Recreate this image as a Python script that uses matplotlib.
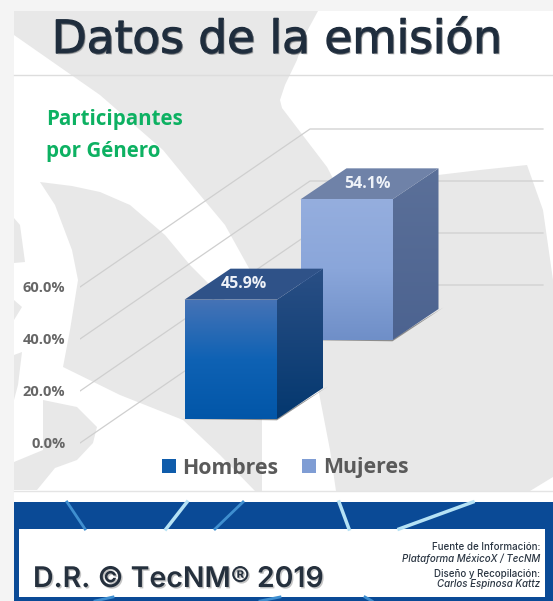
import numpy as np
import matplotlib
matplotlib.use("Agg")
import matplotlib.pyplot as plt
from matplotlib.colors import LinearSegmentedColormap
from matplotlib.patches import Polygon, Patch, Rectangle
import matplotlib.patheffects as pe

# Datos
categorias = ["Hombres", "Mujeres"]
valores = [45.9, 54.1]
ticks = [0, 20, 40, 60]
tick_labels = ["0.0%", "20.0%", "40.0%", "60.0%"]

W, H = 553, 601
PX = 2.6  # pixeles por punto porcentual
Y0 = 443  # pixel del 0%
FONDO_DX, FONDO_DY = 230, 158 / PX

# posicion de cada barra: x frontal, ancho, desplazamiento en profundidad
BAR_X = [184.5, 300.5]
BAR_W = [92.5, 92]
BAR_BASE = [24 / PX, 103 / PX]
DX, DY = 46, 31 / PX
LABEL_DX = [59, 67]

GRIS = "#e8e8e8"
FUENTE = "Open Sans"
colores_frente = [["#4673b6", "#0f62b4", "#0256a8"], ["#95aede", "#8aa6da", "#6f8fc8"]]
colores_lado = [["#2a4f85", "#04386f"], ["#5b7099", "#4c6390"]]
colores_tapa = ["#2f5288", "#6f82a8"]
legend_colors = ["#0f5cab", "#7f9dd4"]

fig = plt.figure(figsize=(W / 100, H / 100), dpi=100, facecolor="#f4f4f4")

# Fondo en pixeles
bg = fig.add_axes([0, 0, 1, 1])
bg.set_xlim(0, W)
bg.set_ylim(H, 0)
bg.axis("off")
bg.add_patch(Rectangle((14, 11), W, 491, fc="white", ec="none"))

# Marca de agua
formas = [
    # banda superior
    [(14, 11), (318, 11), (305, 35), (297, 60), (285, 85), (280, 100), (282, 108), (327, 167), (360, 230), (380, 300),
     (280, 345), (270, 340), (262, 305), (250, 270), (225, 225), (190, 183), (163, 150), (100, 95), (14, 35)],
    # hoja izquierda
    [(40, 182), (72, 186), (100, 192), (130, 205), (165, 235), (190, 265), (225, 300), (262, 345), (262, 491),
     (255, 491), (220, 455), (183, 420), (120, 395), (63, 367), (70, 330), (78, 280), (72, 250), (55, 205)],
    # zona derecha
    [(438, 175), (480, 170), (527, 165), (543, 210), (553, 280), (553, 477), (530, 491), (336, 491), (330, 450), (319, 393),
     (300, 340), (330, 200)],
    # mancha inferior izquierda
    [(43, 400), (77, 407), (97, 427), (93, 443), (77, 460), (55, 468), (37, 490), (14, 490), (14, 462), (43, 450)],
    # recortes del margen
    [(14, 218), (20, 225), (25, 262), (14, 263)],
    [(14, 300), (22, 307), (14, 320)],
    [(14, 355), (22, 352), (18, 385), (14, 400)],
]
for forma in formas:
    bg.add_patch(Polygon(forma, closed=True, fc=GRIS, ec="none"))

# Lineas de titulo y pie
bg.plot([14, W], [75, 75], color="#dddddd", lw=1)
bg.plot([14, W], [491, 491], color="#e4e4e4", lw=1)

# Titulo
bg.text(52, 53, "Datos de la emisión", fontsize=32.7, family="DejaVu Sans", color="#1f2d3d", va="baseline",
        path_effects=[pe.withStroke(linewidth=1.1, foreground="#1f2d3d"),
                      pe.withSimplePatchShadow(offset=(1, -1), shadow_rgbFace="#888888", alpha=0.5)])
bg.text(46, 119, "Participantes", fontsize=14.8, family=FUENTE, fontweight="bold", color="#0db162", va="center")
bg.text(46, 151, "por Género", fontsize=14.8, family=FUENTE, fontweight="bold", color="#0db162", va="center")

# Pie azul
bg.add_patch(Rectangle((14, 502), W, 99, fc="#0a4a96", ec="none"))
redes = [[(67, 502), (85, 529)], [(187, 502), (166, 529)], [(243, 502), (215, 529)], [(339, 502), (349, 529)],
         [(473, 502), (399, 529)], [(113, 597), (95, 601)], [(280, 597), (260, 601)], [(365, 597), (372, 601)]]
for i, r in enumerate(redes):
    xs, ys = zip(*r)
    bg.plot(xs, ys, color="#b5e2f5" if i in (1, 3, 4) else "#3f8fd0", lw=2.5 if i in (1, 3, 4) else 2)
bg.add_patch(Rectangle((19, 529), 526, 68, fc="white", ec="none"))
bg.text(33, 587, "D.R. © TecNM® 2019", fontsize=20.5, family="Inter", fontweight="semibold", color="#25303d",
        va="baseline", path_effects=[pe.withSimplePatchShadow(offset=(1, -1), shadow_rgbFace="#888888", alpha=0.5)])
fuente = [("Fuente de Información:", 550, "normal"), ("Plataforma MéxicoX / TecNM", 562, "italic"),
          ("Diseño y Recopilación:", 577, "normal"), ("Carlos Espinosa Kattz", 587, "italic")]
for txt, y, estilo in fuente:
    bg.text(540, y, txt, fontsize=7, family="Inter", fontweight="medium", style=estilo, color="#2a3542",
            ha="right", va="baseline")

# Ejes del grafico
left, right, top_px, bot_px = 80, W, 100, 491
ax = fig.add_axes([left / W, 1 - bot_px / H, (right - left) / W, (bot_px - top_px) / H])
ax.patch.set_alpha(0)
ax.set_xlim(left, right)
ax.set_ylim((Y0 - bot_px) / PX, (Y0 - top_px) / PX)
ax.set_xticks([])
ax.set_yticks(ticks)
ax.set_yticklabels(tick_labels, family=FUENTE, fontweight="bold", fontsize=10.5, color="#666666")
ax.tick_params(axis="y", length=0, pad=10.5)
for s in ax.spines.values():
    s.set_visible(False)

# Rejilla 3D
for t in ticks:
    ax.plot([left, left + FONDO_DX, 543], [t, t + FONDO_DY, t + FONDO_DY], color="#cfcfcf", lw=0.9, zorder=1)


def relleno(poly, colores, z):
    # degradado vertical recortado al poligono
    xs = [p[0] for p in poly]
    ys = [p[1] for p in poly]
    cmap = LinearSegmentedColormap.from_list("g", colores)
    im = ax.imshow(np.linspace(0, 1, 128).reshape(-1, 1), cmap=cmap, aspect="auto", origin="upper",
                   extent=(min(xs), max(xs), min(ys), max(ys)), zorder=z)
    p = Polygon(poly, closed=True, transform=ax.transData, fc="none", ec="none")
    ax.add_patch(p)
    im.set_clip_path(p)


# Barras
for i, v in enumerate(valores):
    x0, x1 = BAR_X[i], BAR_X[i] + BAR_W[i]
    b, t = BAR_BASE[i], BAR_BASE[i] + v
    z = 5 - i
    ax.add_patch(Polygon([(x0 - 4, b), (x1, b - 0.5), (x1 + DX + 5, b + DY + 0.6), (x1 + DX, b + DY - 0.6), (x1, b + 0.4)],
                         closed=True, fc="#666666", ec="none", alpha=0.7, zorder=z))
    relleno([(x0, b), (x1, b), (x1, t), (x0, t)], colores_frente[i], z + 0.3)
    relleno([(x1, b), (x1 + DX, b + DY), (x1 + DX, t + DY), (x1, t)], colores_lado[i], z + 0.2)
    ax.add_patch(Polygon([(x0, t), (x1, t), (x1 + DX, t + DY), (x0 + DX, t + DY)], closed=True,
                         fc=colores_tapa[i], ec="none", zorder=z + 0.2))
    ax.text(x0 + LABEL_DX[i], t + DY / 2, f"{v:.1f}%", family=FUENTE, fontweight="bold", fontsize=11.5, color="#eef2f8",
            ha="center", va="center", zorder=z + 0.4)

# Leyenda
handles = [Patch(fc=c, ec="none", label=n) for c, n in zip(legend_colors, categorias)]
leg = fig.legend(handles=handles, loc="center", bbox_to_anchor=(285 / W, 1 - 468 / H), ncol=2, frameon=False,
                 prop={"family": FUENTE, "weight": "bold", "size": 15.3}, handlelength=0.66, handleheight=0.66,
                 handletextpad=0.33, columnspacing=1.1, labelcolor="#5a5a5a")

fig.savefig("out.png", dpi=100, facecolor=fig.get_facecolor())
plt.close()
